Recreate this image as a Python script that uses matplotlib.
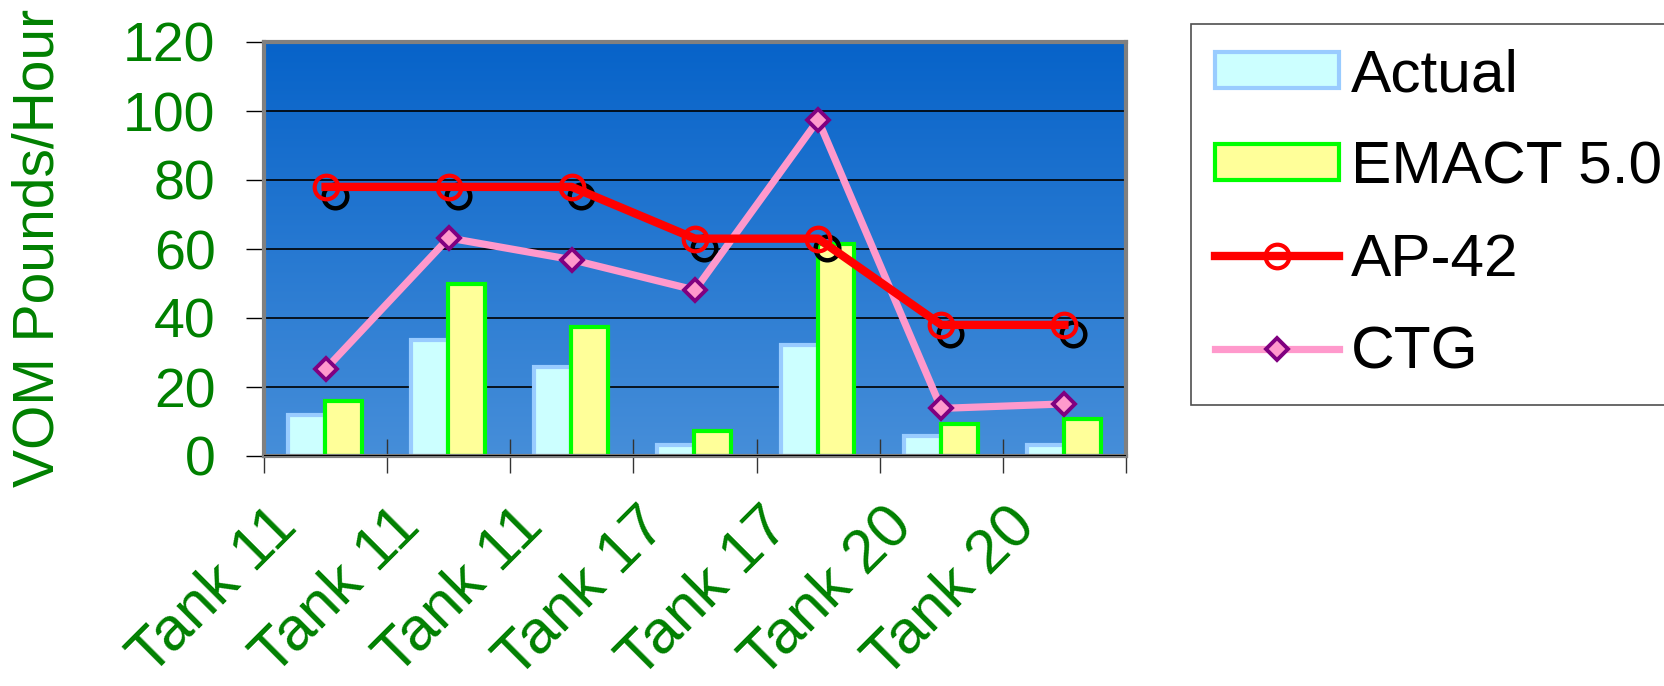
import numpy as np
import matplotlib.pyplot as plt
import matplotlib.transforms as mtransforms
from matplotlib.colors import LinearSegmentedColormap

plt.rcParams['font.family'] = ['Liberation Sans', 'DejaVu Sans']

# データ
categories = ['Tank 11', 'Tank 11', 'Tank 11', 'Tank 17', 'Tank 17', 'Tank 20', 'Tank 20']
actual = [12.0, 33.5, 25.8, 3.3, 32.1, 5.7, 3.3]
emact = [15.9, 49.9, 37.4, 7.2, 61.5, 9.4, 10.8]
ap42 = [78, 78, 78, 63, 63, 38, 38]
ctg = [25.2, 63.2, 56.9, 48.1, 97.4, 13.8, 15.1]
y_ticks = [0, 20, 40, 60, 80, 100, 120]

GREEN = '#008000'
W, H = 1665, 686

fig = plt.figure(figsize=(W / 100, H / 100), dpi=100)
ax = fig.add_axes([264 / W, 1 - 456 / H, (1126 - 264) / W, (456 - 42) / H])

# 背景のグラデーション
grad = np.linspace(0, 1, 256).reshape(-1, 1)
cmap = LinearSegmentedColormap.from_list('bg', ['#468ed9', '#0763c9'])
ax.imshow(grad, cmap=cmap, origin='lower', aspect='auto',
          extent=[0, 1, 0, 1], transform=ax.transAxes, zorder=0)

x = np.arange(len(categories))
ax.bar(x - 0.155, actual, width=0.30, color='#ccffff', edgecolor='#99ccff',
       linewidth=3, label='Actual', zorder=2)
ax.bar(x + 0.145, emact, width=0.30, color='#ffff99', edgecolor='#00ff00',
       linewidth=3, label='EMACT 5.0', zorder=2.1)

# 影（黒い丸）
shadow = mtransforms.offset_copy(ax.transData, fig=fig, x=9, y=-9, units='dots')
ax.plot(x, ap42, linestyle='none', marker='o', ms=17, mfc='none', mec='black',
        mew=3.2, transform=shadow, label='_nolegend_', zorder=3)

ax.plot(x, ctg, color='#ff99cc', lw=5.2, marker='D', ms=11, mfc='#ff99cc',
        mec='#800080', mew=2.8, label='CTG', zorder=4)
ax.plot(x, ap42, color='red', lw=6, marker='o', ms=17, mfc='none', mec='red',
        mew=3, label='AP-42', zorder=5)
ax.axhline(0, color='black', lw=1.5, zorder=3.5)

ax.set_xlim(-0.5, len(categories) - 0.5)
ax.set_ylim(0, 120)
ax.set_yticks(y_ticks)
ax.yaxis.grid(True, color='black', lw=1.2)
ax.set_axisbelow(True)
ax.tick_params(axis='y', direction='out', length=13, width=1, pad=22,
               labelsize=40, labelcolor=GREEN)

# 目盛り（カテゴリ間）
ax.set_xticks(np.arange(-0.5, len(categories)), minor=True)
ax.set_xticks(x)
ax.set_xticklabels(categories)
ax.tick_params(axis='x', which='minor', direction='inout', length=24, width=1,
               color='#333333')
ax.tick_params(axis='x', which='major', length=0, pad=52, labelsize=44,
               labelcolor=GREEN)
shift = mtransforms.ScaledTranslation(-27 / 100, 0, fig.dpi_scale_trans)
for lbl in ax.get_xticklabels():
    lbl.set_rotation(45)
    lbl.set_rotation_mode('anchor')
    lbl.set_ha('right')
    lbl.set_va('baseline')
    lbl.set_transform(lbl.get_transform() + shift)

for sp in ax.spines.values():
    sp.set_color('#808080')
    sp.set_linewidth(3)

fig.text(38.5 / W, 1 - 248 / H, 'VOM Pounds/Hour', rotation=90, ha='center',
         va='center', fontsize=41, color=GREEN)

handles, labels = ax.get_legend_handles_labels()
order = ['Actual', 'EMACT 5.0', 'AP-42', 'CTG']
hmap = dict(zip(labels, handles))
leg = fig.legend([hmap[k] for k in order], order, loc='upper left',
                 bbox_to_anchor=(1191 / W, 1 - 24 / H), bbox_transform=fig.transFigure,
                 fontsize=43.5, frameon=True, fancybox=False, edgecolor='#222222',
                 handlelength=2.05, handleheight=0.55, handletextpad=0.2,
                 labelspacing=0.62, borderpad=0.4, borderaxespad=0)
leg.get_frame().set_linewidth(1.2)

fig.savefig('out.png', dpi=100)
